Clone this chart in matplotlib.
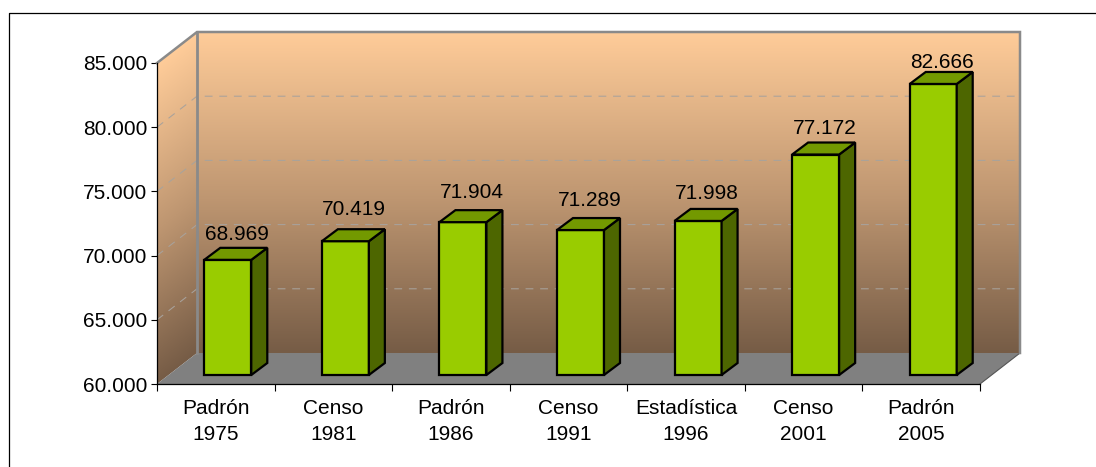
#!/usr/bin/env python3

import numpy as np
from matplotlib import pyplot as plt
from matplotlib.colors import LinearSegmentedColormap
from matplotlib.lines import Line2D
from matplotlib.patches import Polygon

plt.rcParams['font.family'] = ['Liberation Sans', 'DejaVu Sans']

W, H = 1096, 467

CATEGORIES = ['Padrón\n1975', 'Censo\n1981', 'Padrón\n1986', 'Censo\n1991',
              'Estadística\n1996', 'Censo\n2001', 'Padrón\n2005']
VALUES = [68969, 70419, 71904, 71289, 71998, 77172, 82666]
VALUE_LABELS = ['68.969', '70.419', '71.904', '71.289', '71.998', '77.172', '82.666']
Y_TICKS = [60000, 65000, 70000, 75000, 80000, 85000]
Y_TICK_LABELS = ['60.000', '65.000', '70.000', '75.000', '80.000', '85.000']

Y_MIN, Y_MAX = 60000, 85000
N = len(CATEGORIES)

# axes box in pixels of the image
LEFT, RIGHT, TOP, BOTTOM = 157, 980, 63, 384

# pixel to data scale, for the fake 3d depth
PX_X = N / (RIGHT - LEFT)
PX_Y = (Y_MAX - Y_MIN) / (BOTTOM - TOP)
DX = 40 * PX_X
DY = 31 * PX_Y
BAR_W = 47 * PX_X
BAR_DX = 16 * PX_X
BAR_DY = 12 * PX_Y
SHIFT_X = 12 * PX_X
SHIFT_Y = 9 * PX_Y

# excel put the value labels at uneven heights above the bars
LABEL_LIFT = [4, 10, 8, 8, 6, 5, 0]

FONT = 15
GRID = '#a8a29c'
WALL_EDGE = '#8a8a8a'
BAR_LW = 1.6

fig = plt.figure(figsize=(W / 100, H / 100), dpi=100)
ax = fig.add_axes([LEFT / W, 1 - BOTTOM / H, (RIGHT - LEFT) / W, (BOTTOM - TOP) / H])
ax.patch.set_visible(False)

cmap = LinearSegmentedColormap.from_list('wall', [
    (0.0, (255 / 255, 204 / 255, 153 / 255)),
    (0.52, (190 / 255, 150 / 255, 113 / 255)),
    (1.0, (118 / 255, 92 / 255, 70 / 255)),
])

# back wall
grad = np.linspace(0, 1, 256).reshape(-1, 1)
ax.imshow(grad, cmap=cmap, aspect='auto', clip_on=False, zorder=1,
          extent=(DX, N + DX, Y_MIN + DY, Y_MAX + DY))

# side wall, gradient sheared along the depth
rows = np.linspace(0, 1 + 31 / 321, 400)
cols = np.linspace(0, 1, 60)
shear = rows[:, None] - (1 - cols[None, :]) * 31 / 321
side = ax.imshow(np.clip(shear, 0, 1), cmap=cmap, vmin=0, vmax=1, aspect='auto', zorder=1,
                 extent=(0, DX, Y_MIN, Y_MAX + DY))
side_poly = Polygon([(0, Y_MIN), (DX, Y_MIN + DY), (DX, Y_MAX + DY), (0, Y_MAX)],
                    closed=True, transform=ax.transData, fc='none', ec='none')
ax.add_patch(side_poly)
side.set_clip_box(fig.bbox)
side.set_clip_path(side_poly)

# floor
ax.fill([0, DX, N + DX, N], [Y_MIN, Y_MIN + DY, Y_MIN + DY, Y_MIN],
        color='#808080', lw=0, clip_on=False, zorder=1.5)
ax.plot([N, N + DX], [Y_MIN, Y_MIN + DY], color='#555555', lw=0.8, clip_on=False, zorder=1.5)

# gridlines on both walls
for t in Y_TICKS[1:-1]:
    ax.plot([0, DX, N + DX], [t, t + DY, t + DY], color=GRID, lw=0.75,
            dashes=(7.5, 6.5), clip_on=False, zorder=1.6)

# wall outline
ax.plot([0, DX, N + DX, N + DX], [Y_MAX, Y_MAX + DY, Y_MAX + DY, Y_MIN + DY],
        color=WALL_EDGE, lw=1.8, clip_on=False, zorder=1.7, solid_joinstyle='miter')
ax.plot([DX, DX], [Y_MIN + DY, Y_MAX + DY], color=WALL_EDGE, lw=2.0,
        clip_on=False, zorder=1.7)

# bars
x = np.arange(N) + 0.5 + SHIFT_X
vals = np.array(VALUES)
ax.bar(x, vals - Y_MIN, bottom=Y_MIN + SHIFT_Y, width=BAR_W, color='#99cc00',
       edgecolor='black', lw=BAR_LW, clip_on=False, zorder=3)
for xi, v, lab, lift in zip(x, vals, VALUE_LABELS, LABEL_LIFT):
    x0, x1 = xi - BAR_W / 2, xi + BAR_W / 2
    y0, y1 = Y_MIN + SHIFT_Y, v + SHIFT_Y
    ax.fill([x1, x1 + BAR_DX, x1 + BAR_DX, x1], [y0, y0 + BAR_DY, y1 + BAR_DY, y1],
            fc='#4d6600', ec='black', lw=BAR_LW, clip_on=False, zorder=3)
    ax.fill([x0, x0 + BAR_DX, x1 + BAR_DX, x1], [y1, y1 + BAR_DY, y1 + BAR_DY, y1],
            fc='#739900', ec='black', lw=BAR_LW, clip_on=False, zorder=3)
    ax.annotate(lab, (xi + BAR_DX / 2, y1 + BAR_DY), xytext=(1, lift), textcoords='offset pixels',
                ha='center', va='bottom', fontsize=FONT, color='black', zorder=4,
                annotation_clip=False)

ax.set_xlim(0, N)
ax.set_ylim(Y_MIN, Y_MAX)

ax.spines['top'].set_visible(False)
ax.spines['right'].set_visible(False)
for s in ['left', 'bottom']:
    ax.spines[s].set_linewidth(0.9)
    ax.spines[s].set_zorder(2.5)

ax.set_yticks(Y_TICKS)
ax.set_yticklabels(Y_TICK_LABELS, fontsize=FONT)
ax.tick_params(axis='y', length=4, width=0.8, pad=3)

ax.set_xticks(np.arange(N + 1))
ax.set_xticklabels([])
ax.tick_params(axis='x', which='major', length=5, width=0.8)
ax.set_xticks(np.arange(N) + 0.5, minor=True)
ax.set_xticklabels(CATEGORIES, minor=True, fontsize=FONT, linespacing=1.48)
ax.tick_params(axis='x', which='minor', length=0, pad=11)

# chart frame, runs off the image at right and bottom
fig.add_artist(Line2D([8.5 / W, 8.5 / W, 1], [0, 1 - 12.5 / H, 1 - 12.5 / H],
                      color='black', lw=0.9))

plt.savefig('out.png', dpi=100)
